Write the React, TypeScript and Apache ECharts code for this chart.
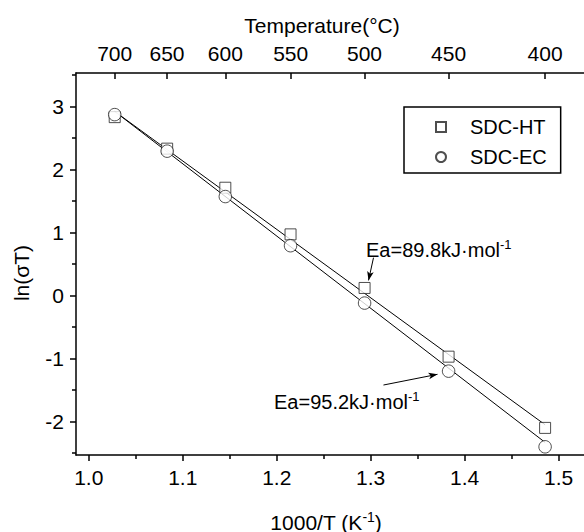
import React, { useEffect, useRef } from "react";
import * as echarts from "echarts";

// ---- data ----
const invT: number[] = [1.0276, 1.0834, 1.1453, 1.2147, 1.2935, 1.3829, 1.4856];
const lnSigmaT_HT: number[] = [2.83, 2.33, 1.71, 0.97, 0.12, -0.97, -2.1];
const lnSigmaT_EC: number[] = [2.87, 2.29, 1.57, 0.79, -0.12, -1.2, -2.4];
const fitHT: number[][] = [[1.0276, 2.92], [1.4856, -2.05]];
const fitEC: number[][] = [[1.0276, 2.92], [1.4856, -2.33]];
const xMajor: number[] = [1.0, 1.1, 1.2, 1.3, 1.4, 1.5];
const xMinor: number[] = [1.05, 1.15, 1.25, 1.35, 1.45];
const yMajor: number[] = [-2, -1, 0, 1, 2, 3];
const yMinor: number[] = [-2.5, -1.5, -0.5, 0.5, 1.5, 2.5, 3.5];
const tempC: number[] = [700, 650, 600, 550, 500, 450, 400];
const arrowHT: number[][] = [[1.303, 0.6], [1.2977, 0.24]];
const arrowEC: number[][] = [[1.3136, -1.42], [1.3711, -1.25]];

const XMIN = 0.9864;
const XMAX = 1.527;
const YMIN = -2.53;
const YMAX = 3.53;
const FONT = "'Liberation Sans', Arial, sans-serif";

export default function App() {
  const ref = useRef<HTMLDivElement>(null);
  useEffect(() => {
    document.body.style.margin = "0";
    if (!ref.current) return;
    const chart = echarts.init(ref.current, undefined, { renderer: "svg" });
    const tempPos = tempC.map((t) => 1000 / (t + 273.15));
    const merged = invT.map((x, i) => [x, lnSigmaT_HT[i]]);
    const mergedEC = invT.map((x, i) => [x, lnSigmaT_EC[i]]);
    const axisText = { fontSize: 21, color: "#000", fontFamily: FONT };
    const arrowLine = (a: number[][]) => ({
      silent: true,
      symbol: ["none", "arrow"],
      symbolSize: [5, 9],
      label: { show: false },
      lineStyle: { color: "#000", width: 1, type: "solid" },
      data: [[{ coord: a[0] }, { coord: a[1] }]],
    });
    const supRich = (main: number) => ({
      a: { fontSize: main, fontFamily: FONT, fill: "#000", lineHeight: 22 },
      b: { fontSize: 13, fontFamily: FONT, fill: "#000", lineHeight: 13, padding: [0, 0, 12, 0] },
    });
    chart.setOption({
      animation: false,
      textStyle: { fontFamily: FONT },
      grid: { left: 76, right: 0, top: 73, bottom: 77 },
      legend: {
        data: ["SDC-HT", "SDC-EC"],
        orient: "vertical",
        left: 404,
        top: 107,
        borderColor: "#000",
        borderWidth: 1.5,
        padding: [10, 14, 6, 31],
        itemWidth: 10,
        itemHeight: 10,
        itemGap: 10,
        selectedMode: false,
        textStyle: { fontSize: 20, color: "#000", fontFamily: FONT, padding: [0, 0, 0, 19] },
      },
      xAxis: [
        {
          type: "value",
          position: "bottom",
          min: XMIN,
          max: XMAX,
          axisLine: { show: true, onZero: false, lineStyle: { color: "#000", width: 1.5 } },
          axisTick: { show: true, inside: false, length: 6, customValues: xMajor, lineStyle: { color: "#000", width: 1.5 } },
          axisLabel: { ...axisText, margin: 12, customValues: xMajor, formatter: (v: number) => v.toFixed(1) },
          splitLine: { show: false },
        },
        {
          type: "value",
          position: "bottom",
          min: XMIN,
          max: XMAX,
          axisLine: { show: false, onZero: false },
          axisTick: { show: true, inside: false, length: 4, customValues: xMinor, lineStyle: { color: "#000", width: 1.5 } },
          axisLabel: { show: false },
          splitLine: { show: false },
        },
        {
          type: "value",
          position: "top",
          min: XMIN,
          max: XMAX,
          axisLine: { show: true, onZero: false, lineStyle: { color: "#000", width: 1.5 } },
          axisTick: { show: true, inside: true, length: 6, customValues: tempPos, lineStyle: { color: "#000", width: 1.5 } },
          axisLabel: {
            ...axisText,
            margin: 9,
            customValues: tempPos,
            formatter: (v: number) => String(Math.round(1000 / v - 273.15)),
          },
          splitLine: { show: false },
        },
      ],
      yAxis: [
        {
          type: "value",
          position: "left",
          min: YMIN,
          max: YMAX,
          axisLine: { show: true, onZero: false, lineStyle: { color: "#000", width: 1.5 } },
          axisTick: { show: true, inside: false, length: 6, customValues: yMajor, lineStyle: { color: "#000", width: 1.5 } },
          axisLabel: { ...axisText, margin: 12, customValues: yMajor, formatter: (v: number) => String(v) },
          splitLine: { show: false },
        },
        {
          type: "value",
          position: "left",
          min: YMIN,
          max: YMAX,
          axisLine: { show: false, onZero: false },
          axisTick: { show: true, inside: false, length: 4, customValues: yMinor, lineStyle: { color: "#000", width: 1.5 } },
          axisLabel: { show: false },
          splitLine: { show: false },
        },
      ],
      series: [
        {
          name: "fitHT",
          type: "line",
          data: fitHT,
          symbol: "none",
          lineStyle: { color: "#000", width: 1 },
          z: 2,
          markLine: arrowLine(arrowHT),
        },
        {
          name: "fitEC",
          type: "line",
          data: fitEC,
          symbol: "none",
          lineStyle: { color: "#000", width: 1 },
          z: 2,
          markLine: arrowLine(arrowEC),
        },
        {
          name: "SDC-HT",
          type: "scatter",
          data: merged,
          symbol: "rect",
          symbolSize: 11,
          itemStyle: { color: "#fff", borderColor: "#222", borderWidth: 1 },
          z: 3,
        },
        {
          name: "SDC-EC",
          type: "scatter",
          data: mergedEC,
          symbol: "circle",
          symbolSize: 12.5,
          itemStyle: { color: "#fff", borderColor: "#222", borderWidth: 1 },
          z: 3,
        },
      ],
      graphic: [
        {
          type: "text",
          x: 322,
          y: 25,
          style: { text: "Temperature(°C)", fontSize: 21, fontFamily: FONT, fill: "#000", align: "center", verticalAlign: "middle" },
        },
        {
          type: "text",
          x: 326,
          y: 522,
          style: {
            text: "{a|1000/T (K}{b|-1}{a|)}",
            fill: "#000",
            align: "center",
            verticalAlign: "middle",
            rich: {
              a: { fontSize: 21, fontFamily: FONT, fill: "#000", lineHeight: 22 },
              b: { fontSize: 14, fontFamily: FONT, fill: "#000", lineHeight: 14, padding: [0, 0, 10, 0] },
            },
          },
        },
        {
          type: "text",
          x: 21,
          y: 273,
          rotation: Math.PI / 2,
          style: { text: "ln(σT)", fontSize: 21, fontFamily: FONT, fill: "#000", align: "center", verticalAlign: "middle" },
        },
        {
          type: "text",
          x: 366,
          y: 250,
          style: {
            text: "{a|Ea=89.8kJ·mol}{b|-1}",
            fill: "#000",
            align: "left",
            verticalAlign: "middle",
            rich: supRich(20),
          },
        },
        {
          type: "text",
          x: 274,
          y: 402,
          style: {
            text: "{a|Ea=95.2kJ·mol}{b|-1}",
            fill: "#000",
            align: "left",
            verticalAlign: "middle",
            rich: supRich(20),
          },
        },
      ],
    });
    return () => chart.dispose();
  }, []);
  return <div ref={ref} style={{ width: 584, height: 532 }} />;
}
